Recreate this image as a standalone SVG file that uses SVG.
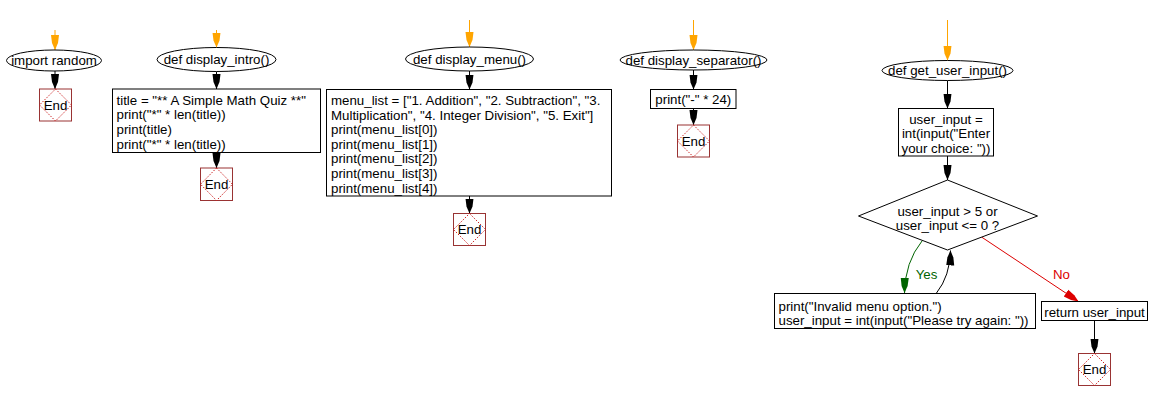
<svg xmlns="http://www.w3.org/2000/svg" width="1150" height="401" viewBox="0 0 1150 401">
<style>
text{font-family:"Liberation Sans",Arial,sans-serif;font-size:13.3px;fill:#000}
.c{text-anchor:middle}
.sh{fill:#fff;stroke:#000;stroke-width:1}
.eb{fill:#fff;stroke:#993333;stroke-width:1}
.ed{fill:none;stroke:#cc2222;stroke-width:1;stroke-dasharray:1.5,1.5}
.k{fill:none;stroke:#000;stroke-width:1}
.o{fill:none;stroke:#ffa500;stroke-width:1}
.g{fill:none;stroke:#006400;stroke-width:1}
.r{fill:none;stroke:#dd0000;stroke-width:1}
</style>
<defs>
<marker id="mk" markerWidth="16" markerHeight="10" refX="15" refY="5" orient="auto" markerUnits="userSpaceOnUse" viewBox="0 0 16 10"><path d="M0,1 L8,2 L15,5 L8,8 L0,9 Z" fill="#000"/></marker>
<marker id="mo" markerWidth="16" markerHeight="10" refX="15" refY="5" orient="auto" markerUnits="userSpaceOnUse" viewBox="0 0 16 10"><path d="M0,1 L8,2 L15,5 L8,8 L0,9 Z" fill="#ffa500"/></marker>
<marker id="mg" markerWidth="16" markerHeight="10" refX="15" refY="5" orient="auto" markerUnits="userSpaceOnUse" viewBox="0 0 16 10"><path d="M0,1 L8,2 L15,5 L8,8 L0,9 Z" fill="#006400"/></marker>
<marker id="mr" markerWidth="16" markerHeight="10" refX="15" refY="5" orient="auto" markerUnits="userSpaceOnUse" viewBox="0 0 16 10"><path d="M0,1 L8,2 L15,5 L8,8 L0,9 Z" fill="#dd0000"/></marker>
</defs>
<rect width="1150" height="401" fill="#fff"/>

<g id="connectors">
<line class="o" x1="55" y1="30" x2="55" y2="50" marker-end="url(#mo)"/>
<line class="k" x1="55" y1="71" x2="55" y2="89" marker-end="url(#mk)"/>
<line class="o" x1="216.5" y1="30" x2="216.5" y2="47.5" marker-end="url(#mo)"/>
<line class="k" x1="216.5" y1="71.5" x2="216.5" y2="89" marker-end="url(#mk)"/>
<line class="k" x1="216.5" y1="152.5" x2="216.5" y2="168" marker-end="url(#mk)"/>
<line class="o" x1="469.5" y1="20" x2="469.5" y2="47" marker-end="url(#mo)"/>
<line class="k" x1="469.5" y1="71" x2="469.5" y2="89.5" marker-end="url(#mk)"/>
<line class="k" x1="469.5" y1="196" x2="469.5" y2="213.5" marker-end="url(#mk)"/>
<line class="o" x1="693.5" y1="20" x2="693.5" y2="50" marker-end="url(#mo)"/>
<line class="k" x1="693.5" y1="70" x2="693.5" y2="89.5" marker-end="url(#mk)"/>
<line class="k" x1="693.5" y1="108.5" x2="693.5" y2="125" marker-end="url(#mk)"/>
<line class="o" x1="947.5" y1="20" x2="947.5" y2="60.5" marker-end="url(#mo)"/>
<line class="k" x1="947.5" y1="80.5" x2="947.5" y2="108.5" marker-end="url(#mk)"/>
<line class="k" x1="947.5" y1="156" x2="947.5" y2="180" marker-end="url(#mk)"/>
<path class="g" d="M922,241 Q905,262 904.5,293" marker-end="url(#mg)"/>
<text x="926.5" y="278.5" class="c" style="fill:#006400">Yes</text>
<path class="k" d="M936.5,293 Q950,276 950.5,250.5" marker-end="url(#mk)"/>
<line class="r" x1="981.5" y1="237" x2="1078.5" y2="301.5" marker-end="url(#mr)"/>
<text x="1061.5" y="278.5" class="c" style="fill:#dd0000">No</text>
<line class="k" x1="1094.5" y1="320.5" x2="1094.5" y2="353.5" marker-end="url(#mk)"/>
</g>

<g id="n_import">
<ellipse class="sh" cx="54" cy="60.5" rx="47.5" ry="10.5"/>
<text x="54" y="65" class="c">import random</text>
</g>
<g id="n_end1">
<rect class="eb" x="39.5" y="89" width="32" height="32"/>
<path class="ed" d="M55.5,89 L71.5,105 L55.5,121 L39.5,105 Z"/>
<text x="55.5" y="109.5" class="c">End</text>
</g>

<g id="n_intro">
<ellipse class="sh" cx="216.5" cy="59.5" rx="59.5" ry="12"/>
<text x="216.5" y="64" class="c">def display_intro()</text>
</g>
<g id="n_intro_body">
<rect class="sh" x="112.5" y="89" width="208" height="63.5"/>
<text x="116.5" y="104.5">title = "** A Simple Math Quiz **"</text>
<text x="116.5" y="119.2">print("*" * len(title))</text>
<text x="116.5" y="133.9">print(title)</text>
<text x="116.5" y="148.6">print("*" * len(title))</text>
</g>
<g id="n_end2">
<rect class="eb" x="200.5" y="168" width="32" height="32.5"/>
<path class="ed" d="M216.5,168 L232.5,184.25 L216.5,200.5 L200.5,184.25 Z"/>
<text x="216.5" y="189" class="c">End</text>
</g>

<g id="n_menu">
<ellipse class="sh" cx="469.5" cy="59" rx="64" ry="12"/>
<text x="469.5" y="63.5" class="c">def display_menu()</text>
</g>
<g id="n_menu_body">
<rect class="sh" x="326.5" y="89.5" width="285" height="106.5"/>
<text x="331" y="105">menu_list = ["1. Addition", "2. Subtraction", "3.</text>
<text x="331" y="119.6">Multiplication", "4. Integer Division", "5. Exit"]</text>
<text x="331" y="134.2">print(menu_list[0])</text>
<text x="331" y="148.8">print(menu_list[1])</text>
<text x="331" y="163.4">print(menu_list[2])</text>
<text x="331" y="178">print(menu_list[3])</text>
<text x="331" y="192.6">print(menu_list[4])</text>
</g>
<g id="n_end3">
<rect class="eb" x="453.5" y="213.5" width="32" height="32"/>
<path class="ed" d="M469.5,213.5 L485.5,229.5 L469.5,245.5 L453.5,229.5 Z"/>
<text x="469.5" y="234" class="c">End</text>
</g>

<g id="n_sep">
<ellipse class="sh" cx="693.5" cy="60" rx="73.5" ry="10"/>
<text x="693.5" y="64.5" class="c">def display_separator()</text>
</g>
<g id="n_sep_body">
<rect class="sh" x="650.5" y="89.5" width="85.5" height="19"/>
<text x="693.3" y="103.5" class="c">print("-" * 24)</text>
</g>
<g id="n_end4">
<rect class="eb" x="677.5" y="125" width="32" height="32"/>
<path class="ed" d="M693.5,125 L709.5,141 L693.5,157 L677.5,141 Z"/>
<text x="693.5" y="145.5" class="c">End</text>
</g>

<g id="n_get">
<ellipse class="sh" cx="947.5" cy="70.5" rx="65.5" ry="10"/>
<text x="947.5" y="75" class="c">def get_user_input()</text>
</g>
<g id="n_get_body">
<rect class="sh" x="898.5" y="108.5" width="95" height="47.5"/>
<text x="946" y="123.5" class="c">user_input =</text>
<text x="946" y="138" class="c">int(input("Enter</text>
<text x="946" y="152.5" class="c">your choice: "))</text>
</g>
<g id="n_cond">
<path class="sh" d="M947.5,180 L1037.5,216 L947.5,250 L858.5,216 Z"/>
<text x="947.5" y="215.5" class="c">user_input &gt; 5 or</text>
<text x="947.5" y="230" class="c">user_input &lt;= 0 ?</text>
</g>
<g id="n_invalid">
<rect class="sh" x="774.5" y="293.5" width="261" height="35"/>
<text x="778.5" y="310.5">print("Invalid menu option.")</text>
<text x="778.5" y="325">user_input = int(input("Please try again: "))</text>
</g>
<g id="n_return">
<rect class="sh" x="1041.5" y="301.5" width="106" height="19"/>
<text x="1094.5" y="316.5" class="c">return user_input</text>
</g>
<g id="n_end5">
<rect class="eb" x="1078.5" y="353.5" width="32" height="32"/>
<path class="ed" d="M1094.5,353.5 L1110.5,369.5 L1094.5,385.5 L1078.5,369.5 Z"/>
<text x="1094.5" y="374" class="c">End</text>
</g>
</svg>
